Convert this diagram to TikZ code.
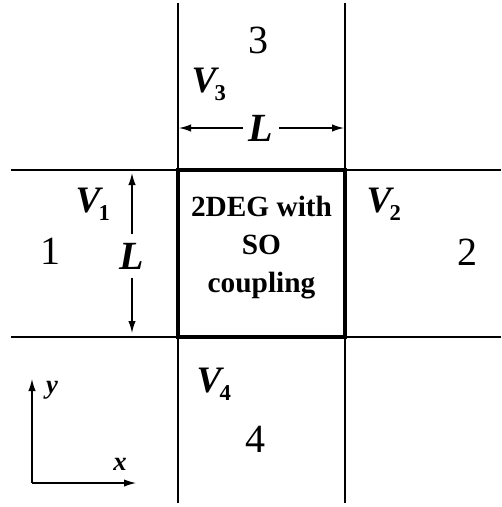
\documentclass[tikz,border=0pt]{standalone}
\usepackage{fontspec}
\setmainfont{Liberation Serif}
\usetikzlibrary{arrows.meta}

\begin{document}
\begin{tikzpicture}[x=0.75pt, y=-0.75pt, line width=0.9pt,
  >={Latex[length=9pt,width=5.5pt]},
  port/.style={font=\fontsize{30}{36}\selectfont},
  vlab/.style={anchor=base west, inner sep=0pt, font=\fontsize{28}{30}\selectfont\bfseries\itshape},
  dimlab/.style={inner xsep=4pt, inner ysep=6pt, font=\fontsize{30}{36}\selectfont\bfseries\itshape},
  axlab/.style={font=\fontsize{20}{24}\selectfont\bfseries\itshape},
  chip/.style={draw, line width=2.4pt, minimum width=125.25pt, minimum height=125.25pt, inner sep=0pt}]
\useasboundingbox (0,0) rectangle (501,507);
% the four leads
\draw (178,3) -- (178,503);
\draw (345,3) -- (345,503);
\draw (11,170) -- (501,170);
\draw (11,337) -- (501,337);
% scattering region in the middle
\node[chip] (dev) at (261.5,253.5) {};
\node[align=center, font=\fontsize{22}{28.5}\selectfont\bfseries] (soc) at (261.5,248) {2DEG with\\SO\\coupling};
% lead numbers and voltages
\foreach \n/\px/\py in {1/50/251, 2/467/252, 3/258/40, 4/255/439}
  \node[port] (p\n) at (\px,\py) {\n};
\foreach \n/\px/\py in {1/75/212, 2/366/212, 3/191/92, 4/196/392}
  \node[vlab] (v\n) at (\px,\py) {V\kern-1.5pt\raisebox{-6pt}{\fontsize{17}{17}\selectfont\upshape\n}};
% side length L, across and along
\coordinate (wl) at (179,128);
\coordinate (wr) at (344,128);
\node[dimlab] (lw) at (261,128) {L};
\draw[->] (lw) -- (wl);
\draw[->] (lw) -- (wr);
\coordinate (ht) at (132,173);
\coordinate (hb) at (132,333);
\node[dimlab] (lh) at (132,256) {L};
\draw[->] (lh) -- (ht);
\draw[->] (lh) -- (hb);
% axes
\coordinate (o) at (32,483);
\coordinate (ay) at (32,379);
\coordinate (ax) at (136,483);
\draw[->] (o) -- (ay);
\draw[->] (o) -- (ax);
\node[axlab] (ylab) at (52,390) {y};
\node[axlab] (xlab) at (120,464) {x};
\end{tikzpicture}
\end{document}
